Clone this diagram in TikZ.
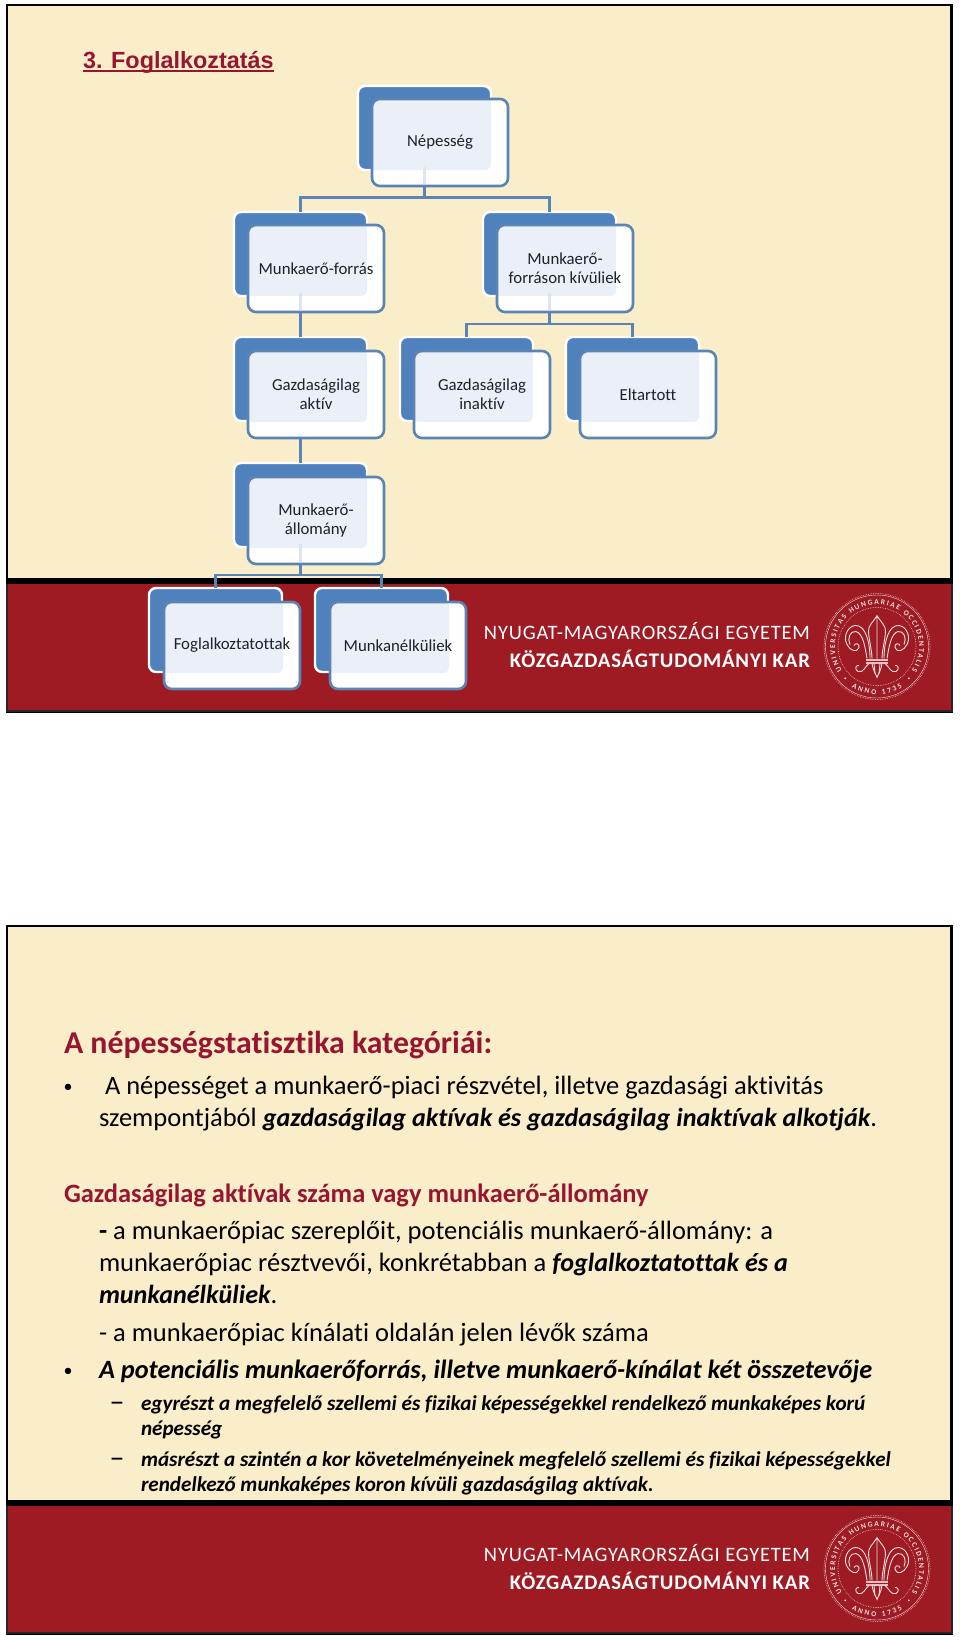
\documentclass[tikz,border=0pt]{standalone}
\usepackage{fontspec}
\usetikzlibrary{decorations.text}
\setmainfont[Ligatures=NoCommon]{Carlito}
\newfontfamily\arialf{Liberation Sans}
\newfontfamily\banf[LetterSpace=4,Ligatures=NoCommon]{Carlito}
\definecolor{cream}{HTML}{FAEDC9}
\definecolor{bandred}{HTML}{9E1B23}
\definecolor{headred}{HTML}{981530}
\definecolor{boxblue}{HTML}{4F81BD}
\definecolor{edgeblue}{HTML}{5A84B4}
\definecolor{overlapc}{HTML}{EBF0F8}
\definecolor{faintc}{HTML}{DCE5F0}
\definecolor{inktext}{HTML}{1C2228}
\definecolor{sealc}{HTML}{F2DEDE}
\newcommand\fsz[1]{\fontsize{#1}{#1}\selectfont}
\newcommand\emphtxt[1]{{\fontsize{26.1}{26.1}\selectfont\bfseries\itshape #1}}
\tikzset{
  x=1pt,y=-1pt,
  backbox/.style={draw=white,line width=2.4pt,fill=boxblue,rounded corners=7pt,minimum width=133pt,minimum height=84pt,inner sep=0pt,outer sep=0pt,anchor=north west},
  frontbox/.style={draw=edgeblue,line width=2.6pt,fill=white,rounded corners=8pt,minimum width=136pt,minimum height=87pt,inner sep=0pt,outer sep=0pt,anchor=north west,align=center,text=inktext,font=\fsz{16.8},execute at begin node={\baselineskip=19pt},
    path picture={\fill[overlapc,rounded corners=6pt] ([shift={(-2,-2)}]path picture bounding box.north west) rectangle ++(121,73);}},
  conn/.style={draw=edgeblue,line width=2.6pt},
  faintconn/.style={draw=faintc,line width=2.6pt},
  slidebg/.style={draw=black,line width=2.5pt,fill=cream},
  textline/.style={anchor=base west,inner sep=0pt,outer sep=0pt,text=black},
  headline/.style={textline,text=headred,font=\bfseries},
  bodyfont/.style={textline,font=\fsz{26.5}},
  bulletfont/.style={textline,font=\fsz{18}},
  dashfont/.style={textline,font=\fsz{30}},
  subfont/.style={textline,font=\fsz{21.16}\bfseries\itshape},
  bant/.style={anchor=base east,inner sep=0pt,outer sep=0pt,text=white},
  sealline/.style={draw=sealc,line width=.9pt},
  sealdots/.style={draw=sealc,line width=.8pt,line cap=round,dash pattern=on 0pt off 1.7pt},
}
% footer: name prefix, top of red band, bottom of slide
\newcommand\footerband[3]{%
  \fill[black] (6,#2-6) rectangle (953,#2);
  \fill[bandred] (7,#2) rectangle (951,#3);
  \draw[black!85,line width=2pt] (7,#2) -- (7,#3) -- (951.5,#3) -- (951.5,#2);
  \node[bant] (#1a) at (810,#2+55) {\resizebox{326pt}{!}{\fsz{20}\banf NYUGAT-MAGYARORSZÁGI EGYETEM}};
  \node[bant] (#1b) at (810,#2+83) {\resizebox{300pt}{!}{\fsz{20}\banf\bfseries KÖZGAZDASÁGTUDOMÁNYI KAR}};
  \begin{scope}[shift={(877,#2+62.5)},y=1pt]
    \draw[sealdots] (0,0) circle[radius=53pt];
    \draw[sealline,line width=.4pt] (0,0) circle[radius=51.5pt];
    \draw[sealdots] (0,0) circle[radius=39pt];
    \path[decorate,decoration={text along path,text align={fit to path},
      text={|\fsz{7.5}\bfseries\color{sealc}|UNIVERSITAS HUNGARIAE OCCIDENTALIS}}]
      (214:42pt) arc[start angle=214,end angle=-34,radius=42pt];
    \path[decorate,decoration={text along path,text align={fit to path},
      text={|\fsz{7.5}\bfseries\color{sealc}|ANNO 1735}}]
      (238:48pt) arc[start angle=238,end angle=302,radius=48pt];
    \fill[sealc] (225:45pt) circle[radius=1pt] (315:45pt) circle[radius=1pt];
    \draw[sealline] (0,31) .. controls (4,24) and (9,21) .. (8.5,15) .. controls (8,6) and (5,-4) .. (5,-12)
      (0,31) .. controls (-4,24) and (-9,21) .. (-8.5,15) .. controls (-8,6) and (-5,-4) .. (-5,-12)
      (0,31) -- (0,-12)
      (-5,-17) .. controls (-4,-24) and (-1,-28) .. (0,-31) .. controls (1,-28) and (4,-24) .. (5,-17);
    \foreach \s in {1,-1}{
      \begin{scope}[xscale=\s]
        \draw[sealline] (-7,-12) .. controls (-7,3) and (-11,22) .. (-22,21) .. controls (-30,20) and (-34,9) .. (-30,2) .. controls (-27,-4) and (-20,-7) .. (-18,-1) .. controls (-17,3) and (-22,4) .. (-23,1);
        \draw[sealline] (-10,-12) .. controls (-12,0) and (-14,13) .. (-21,15) .. controls (-27,16) and (-30,8) .. (-27,2);
        \draw[sealline] (-8,-17) .. controls (-12,-20) and (-14,-27) .. (-19,-25) .. controls (-23,-23) and (-21,-18) .. (-18,-19);
        \draw[sealline] (-3,-17) -- (-2,-27);
      \end{scope}
    }
    \fill[sealc,opacity=.85] (-11,-12) rectangle (11,-17);
    \fill[bandred] (-11,-14.2) rectangle (11,-15);
  \end{scope}
}
\begin{document}
\begin{tikzpicture}
\useasboundingbox[fill=white] (0,0) rectangle (960,1641);
% ---------- slide 1 ----------
\draw[slidebg] (7,5) rectangle (951.5,712);
\footerband{fa}{584}{711}
\node[anchor=base west,inner sep=0pt,outer sep=0pt,text=headred,font=\arialf\bfseries\fsz{23.4}] (title) at (83,68) {3. Foglalkoztatás};
\draw[headred,line width=1.5pt] ([yshift=-3pt]title.base west) -- ([yshift=-3pt]title.base east);
% back boxes
\node[backbox] (b1) at (358,86) {};
\node[backbox] (b2) at (234,212) {};
\node[backbox] (b3) at (483,212) {};
\node[backbox] (b4) at (234,337) {};
\node[backbox] (b5) at (400,337) {};
\node[backbox] (b6) at (566,337) {};
\node[backbox] (b7) at (234,463) {};
\node[backbox] (b8) at (149,588) {};
\node[backbox] (b9) at (315,588) {};
% bus levels
\coordinate (busa) at (0,197.5);
\coordinate (busb) at (0,324);
\coordinate (busc) at (0,575);
\draw[conn] (b1.south) -- (b1.south |- busa) -| (b2.north);
\draw[conn] (b1.south) -- (b1.south |- busa) -| (b3.north);
\draw[conn] (b2.south) -- (b4.north);
\draw[conn] (b3.south) -- (b3.south |- busb) -| (b5.north);
\draw[conn] (b3.south) -- (b3.south |- busb) -| (b6.north);
\draw[conn] (b4.south) -- (b7.north);
\draw[conn] (b7.south) -- (b7.south |- busc) -| (b8.north);
\draw[conn] (b7.south) -- (b7.south |- busc) -| (b9.north);
% front boxes
\node[frontbox] (f1) at (372,99) {Népesség};
\node[frontbox] (f2) at (248,225) {Munkaerő-forrás};
\node[frontbox] (f3) at (497,225) {Munkaerő-\\forráson kívüliek};
\node[frontbox] (f4) at (248,351) {Gazdaságilag\\aktív};
\node[frontbox] (f5) at (414,351) {Gazdaságilag\\inaktív};
\node[frontbox] (f6) at (580,351) {Eltartott};
\node[frontbox] (f7) at (248,477) {Munkaerő-\\állomány};
\node[frontbox] (f8) at (164,602) {Foglalkoztatottak};
\node[frontbox] (f9) at (330,602) {Munkanélküliek};
% faint continuation of each connector seen through the front box
\draw[faintconn] ([yshift=3pt]b1.south) -- ([yshift=2pt]b1.south |- f1.south);
\draw[faintconn] ([yshift=3pt]b2.south) -- ([yshift=2pt]b2.south |- f2.south);
\draw[faintconn] ([yshift=3pt]b3.south) -- ([yshift=2pt]b3.south |- f3.south);
\draw[faintconn] ([yshift=3pt]b7.south) -- ([yshift=2pt]b7.south |- f7.south);
% ---------- slide 2 ----------
\draw[slidebg] (7,926) rectangle (951.5,1634);
\footerband{fb}{1506}{1633}
\node[headline,font=\bfseries\fsz{31.8}] (h1) at (64,1053) {A népességstatisztika kategóriái:};
\node[bulletfont] (t0) at (63.5,1092) {•};
\node[bodyfont] (t1) at (105,1094) {A népességet a munkaerő-piaci részvétel, illetve gazdasági aktivitás};
\node[bodyfont] (t2) at (99,1126) {szempontjából \emphtxt{gazdaságilag aktívak és gazdaságilag inaktívak alkotják}.};
\node[headline,font=\bfseries\fsz{26.45}] (h2) at (64,1202) {Gazdaságilag aktívak száma vagy munkaerő-állomány};
\node[bodyfont] (t3) at (99,1239) {\textbf{-} a munkaerőpiac szereplőit, potenciális munkaerő-állomány: a};
\node[bodyfont] (t4) at (99,1271) {munkaerőpiac résztvevői, konkrétabban a \emphtxt{foglalkoztatottak és a}};
\node[bodyfont] (t5) at (99,1303) {\emphtxt{munkanélküliek}.};
\node[bodyfont] (t6) at (99,1341) {- a munkaerőpiac kínálati oldalán jelen lévők száma};
\node[bulletfont] (t7) at (63.5,1376) {•};
\node[bodyfont,font=\fsz{26.35}\bfseries\itshape] (t8) at (99,1378) {A potenciális munkaerőforrás, illetve munkaerő-kínálat két összetevője};
\node[dashfont] (d1) at (109.5,1411.5) {–};
\node[subfont] (t9) at (141,1410) {egyrészt a megfelelő szellemi és fizikai képességekkel rendelkező munkaképes korú};
\node[subfont] (t10) at (141,1435) {népesség};
\node[dashfont] (d2) at (109.5,1467.5) {–};
\node[subfont] (t11) at (141,1466) {másrészt a szintén a kor követelményeinek megfelelő szellemi és fizikai képességekkel};
\node[subfont] (t12) at (141,1491) {rendelkező munkaképes koron kívüli gazdaságilag aktívak.};
\end{tikzpicture}
\end{document}
